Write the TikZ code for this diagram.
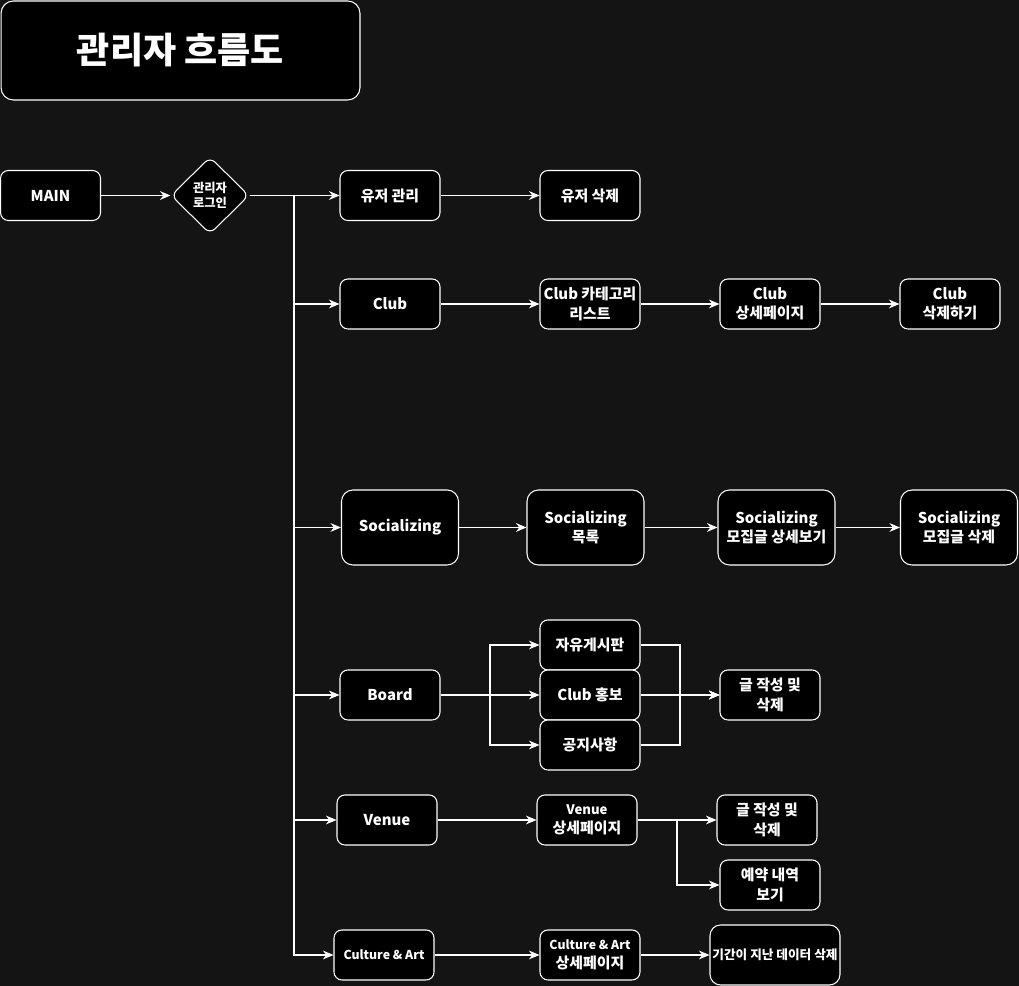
\documentclass[tikz,border=0pt]{standalone}
\usepackage{fontspec}
\setmainfont{Noto Sans CJK KR}
\usetikzlibrary{arrows.meta,positioning,shapes.geometric}
\definecolor{FlowBg}{HTML}{141414}
\definecolor{FlowBox}{HTML}{000000}

\begin{document}
\begin{tikzpicture}[x=0.02cm,y=-0.02cm]
\tikzset{flow/.style={fill=FlowBox,draw=white,line width=0.6pt,rounded corners=4.5pt,minimum width=2cm,minimum height=1cm,text=white,align=center,inner sep=1pt,font=\fontsize{8.5}{11}\selectfont\bfseries},bigflow/.style={flow,minimum width=2.34cm,minimum height=1.5cm,rounded corners=6.5pt},login/.style={diamond,fill=FlowBox,draw=white,line width=0.6pt,rounded corners=4pt,minimum width=1.56cm,minimum height=1.54cm,inner sep=0pt,text=white,align=center,font=\fontsize{7}{8.5}\selectfont\bfseries},arr/.style={-{Stealth[length=6pt,width=5pt]},white,line width=0.6pt}}
\fill[FlowBg] (0,0) rectangle (1019,986);
\node[flow,minimum width=7.18cm,minimum height=1.98cm,rounded corners=7pt,font=\fontsize{20.5}{24}\selectfont\bfseries] (title) at (180.5,50.5) {관리자 흐름도};
% main -> login -> menus
\node[flow] (main) at (50.5,195.5) {MAIN};
\node[login] (login) at (210,195.5) {관리자\\로그인};
\node[flow] (user) at (390,195.5) {유저 관리};
\node[flow] (userdel) at (590,195.5) {유저 삭제};
\node[flow] (club) at (390,304) {Club};
\node[flow] (clubcat) at (590,304) {Club 카테고리\\리스트};
\node[flow] (clubdetail) at (770,304) {Club\\상세페이지};
\node[flow] (clubdel) at (950,304) {Club\\삭제하기};
\node[bigflow] (social) at (400,527.5) {Socializing};
\node[bigflow] (sociallist) at (585.5,527.5) {Socializing\\목록};
\node[bigflow] (socialpost) at (776.5,527.5) {Socializing\\모집글 상세보기};
\node[bigflow] (socialdel) at (959,527.5) {Socializing\\모집글 삭제};
\node[flow] (board) at (390,695) {Board};
\node[flow] (free) at (590,645) {자유게시판};
\node[flow] (promo) at (590,695) {Club 홍보};
\node[flow] (notice) at (590,745) {공지사항};
\node[flow] (boardwrite) at (770,695) {글 작성 및\\삭제};
\node[flow] (venue) at (387,820) {Venue};
\node[flow] (venuedetail) at (587,820) {{\fontsize{7.5}{9}\selectfont Venue}\\상세페이지};
\node[flow] (venuewrite) at (767,820) {글 작성 및\\삭제};
\node[flow] (reserve) at (770,885) {예약 내역\\보기};
\node[flow,font=\fontsize{7}{9}\selectfont\bfseries] (culture) at (384,955) {Culture \& Art};
\node[flow] (culturedetail) at (590,955) {{\fontsize{7}{9}\selectfont Culture \& Art}\\상세페이지};
\node[flow,minimum width=2.6cm,minimum height=1.2cm,rounded corners=6pt,font=\fontsize{7.2}{9}\selectfont\bfseries] (expired) at (775,955) {기간이 지난 데이터 삭제};
\coordinate (trunk) at (294,195.5);
\coordinate (bsplit) at (490,695);
\coordinate (bjoin) at (680,695);
\coordinate (vsplit) at (677,820);
% connectors
\draw[arr] (main) -- (login);\draw[arr] (login) -- (user);\draw[arr] (user) -- (userdel);
\draw[arr] (login.east) -- (trunk) |- (club.west);
\draw[arr] (login.east) -- (trunk) |- (social.west);
\draw[arr] (login.east) -- (trunk) |- (board.west);
\draw[arr] (login.east) -- (trunk) |- (venue.west);
\draw[arr] (login.east) -- (trunk) |- (culture.west);
\draw[arr] (club) -- (clubcat);\draw[arr] (clubcat) -- (clubdetail);\draw[arr] (clubdetail) -- (clubdel);
\draw[arr] (social) -- (sociallist);\draw[arr] (sociallist) -- (socialpost);\draw[arr] (socialpost) -- (socialdel);
\draw[arr] (board.east) -- (bsplit) |- (free.west);
\draw[arr] (board) -- (promo);
\draw[arr] (board.east) -- (bsplit) |- (notice.west);
\draw[arr] (free.east) -| (bjoin) -- (boardwrite.west);
\draw[arr] (promo) -- (boardwrite);
\draw[arr] (notice.east) -| (bjoin) -- (boardwrite.west);
\draw[arr] (venue) -- (venuedetail);\draw[arr] (venuedetail) -- (venuewrite);
\draw[arr] (venuedetail.east) -- (vsplit) |- (reserve.west);
\draw[arr] (culture) -- (culturedetail);\draw[arr] (culturedetail) -- (expired);
\end{tikzpicture}
\end{document}
